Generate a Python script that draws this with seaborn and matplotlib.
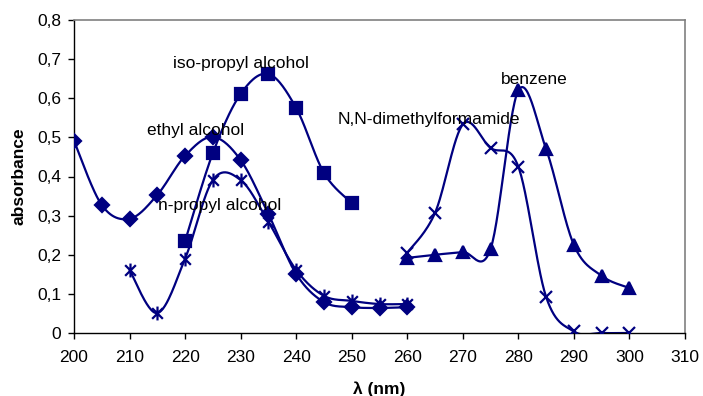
import numpy as np
import pandas as pd
import matplotlib
matplotlib.use("Agg")
import matplotlib.pyplot as plt
from matplotlib.path import Path
from matplotlib.ticker import FuncFormatter, MultipleLocator
import seaborn as sns

# ---- data ----
ethyl_x = [200, 205, 210, 215, 220, 225, 230, 235, 240, 245, 250, 255, 260]
ethyl_y = [0.491, 0.327, 0.292, 0.353, 0.453, 0.501, 0.442, 0.304, 0.151, 0.079, 0.066, 0.064, 0.066]

iso_x = [220, 225, 230, 235, 240, 245, 250]
iso_y = [0.235, 0.460, 0.611, 0.662, 0.575, 0.409, 0.332]

npropyl_x = [210, 215, 220, 225, 230, 235, 240, 245, 250, 255, 260]
npropyl_y = [0.161, 0.051, 0.190, 0.391, 0.391, 0.284, 0.161, 0.095, 0.082, 0.074, 0.074]

dmf_x = [260, 265, 270, 275, 280, 285, 290, 295, 300]
dmf_y = [0.205, 0.307, 0.533, 0.473, 0.425, 0.092, 0.004, 0.0, 0.0]

benz_x = [260, 265, 270, 275, 280, 285, 290, 295, 300]
benz_y = [0.192, 0.200, 0.207, 0.215, 0.620, 0.470, 0.225, 0.146, 0.115]

labels = ["ethyl alcohol", "iso-propyl alcohol", "n-propyl alcohol",
          "N,N-dimethylformamide", "benzene"]

NAVY = "#000080"

# asterisk marker (x plus vertical bar), like Excel's '*' marker
ast = Path([(-1, -1), (1, 1), (-1, 1), (1, -1), (0, -1.3), (0, 1.3)],
           [Path.MOVETO, Path.LINETO, Path.MOVETO, Path.LINETO, Path.MOVETO, Path.LINETO])


def smooth(xs, ys, n=30):
    """Excel-style smoothed line (Bezier through points, Catmull-Rom tangents)."""
    P = np.column_stack([xs, ys]).astype(float)
    m = len(P)
    out = [P[0]]
    t = np.linspace(0, 1, n)[1:, None]
    for i in range(m - 1):
        p0 = P[i - 1] if i > 0 else P[i]
        p1, p2 = P[i], P[i + 1]
        p3 = P[i + 2] if i + 2 < m else P[i + 1]
        c1 = p1 + (p2 - p0) / 6.0
        c2 = p2 - (p3 - p1) / 6.0
        seg = ((1 - t) ** 3) * p1 + 3 * ((1 - t) ** 2) * t * c1 + 3 * (1 - t) * t ** 2 * c2 + t ** 3 * p2
        out.extend(seg)
    out = np.array(out)
    return out[:, 0], out[:, 1]


sns.set_theme(style="white")
plt.rcParams["font.family"] = ["Liberation Sans", "DejaVu Sans"]
plt.rcParams["text.color"] = "black"
plt.rcParams["axes.labelcolor"] = "black"
plt.rcParams["xtick.color"] = "black"
plt.rcParams["ytick.color"] = "black"

fig = plt.figure(figsize=(7.03, 3.96), dpi=100)
ax = fig.add_axes([74 / 703, 1 - 333 / 396, (685 - 74) / 703, (333 - 20) / 396])

series = [
    (ethyl_x, ethyl_y, "D", 7.5),
    (iso_x, iso_y, "s", 8.5),
    (npropyl_x, npropyl_y, ast, 10),
    (dmf_x, dmf_y, "x", 8),
    (benz_x, benz_y, "^", 8.5),
]

for (xs, ys, mk, ms), lab in zip(series, labels):
    sx, sy = smooth(xs, ys)
    df_line = pd.DataFrame({"x": sx, "y": sy})
    sns.lineplot(data=df_line, x="x", y="y", sort=False, estimator=None,
                 color=NAVY, linewidth=1.6, ax=ax, zorder=2)
    ax.plot(xs, ys, linestyle="none", marker=mk, markersize=ms, color=NAVY,
            markeredgecolor=NAVY, markerfacecolor=NAVY, markeredgewidth=1.6, zorder=3)

# annotations
FS = 12.5
txt_kw = dict(fontsize=FS, color="black", va="center", ha="left")
ax.text(217.8, 0.690, "iso-propyl alcohol", **txt_kw)
ax.text(213.1, 0.517, "ethyl alcohol", **txt_kw)
ax.text(215.1, 0.327, "n-propyl alcohol", **txt_kw)
ax.text(247.5, 0.545, "N,N-dimethylformamide", **txt_kw)
ax.text(276.9, 0.647, "benzene", **txt_kw)

ax.set_xlim(200, 310)
ax.set_ylim(0, 0.8)
ax.xaxis.set_major_locator(MultipleLocator(10))
ax.yaxis.set_major_locator(MultipleLocator(0.1))
ax.yaxis.set_major_formatter(FuncFormatter(lambda v, p: ("%g" % round(v, 1)).replace(".", ",")))

ax.tick_params(axis="both", direction="out", length=4, width=1, color="black",
               labelcolor="black", labelsize=FS, bottom=True, left=True)
ax.tick_params(axis="x", pad=8)
ax.tick_params(axis="y", pad=5)

for s in ["left", "bottom"]:
    ax.spines[s].set_color("black")
    ax.spines[s].set_linewidth(1)
for s in ["top", "right"]:
    ax.spines[s].set_color("#808080")
    ax.spines[s].set_linewidth(1.2)

ax.set_xlabel("λ (nm)", fontsize=FS, fontweight="bold", labelpad=12, color="black")
ax.set_ylabel("absorbance", fontsize=FS, fontweight="bold", labelpad=8, color="black")
ax.grid(False)
ax.set_facecolor("white")

fig.savefig("out.png", dpi=100, facecolor="white")
